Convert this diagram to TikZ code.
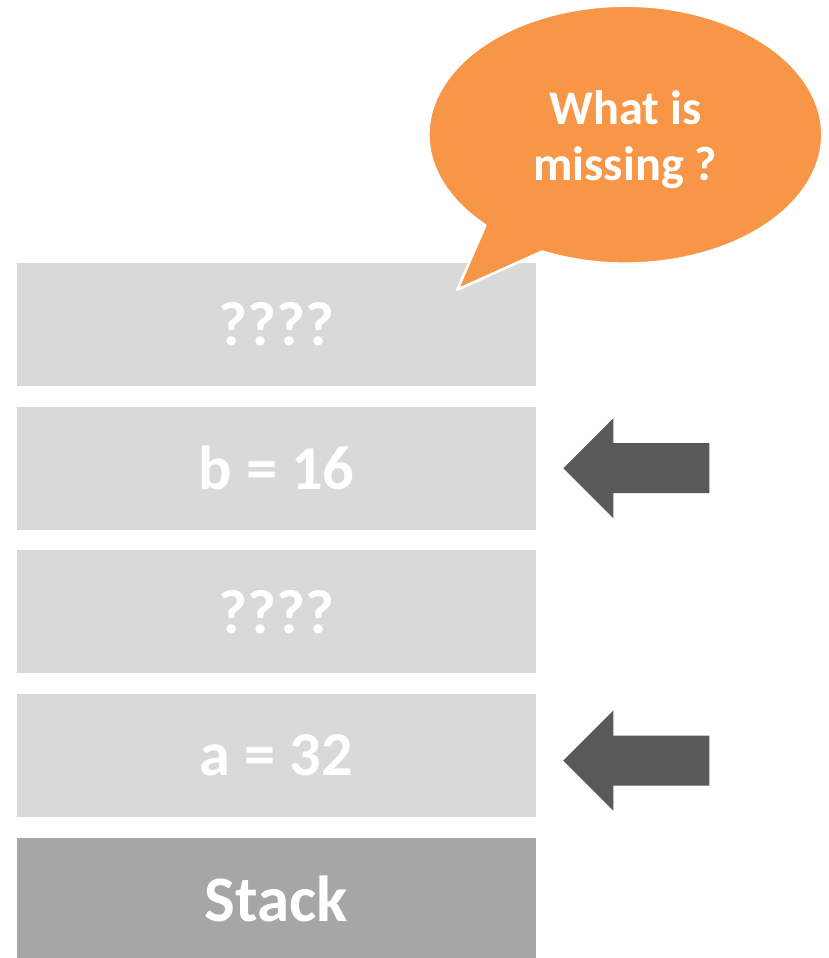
\documentclass[tikz,border=0pt]{standalone}
\usepackage{fontspec}
\setmainfont{Carlito}
\usetikzlibrary{positioning,calc}
\definecolor{cellgray}{HTML}{D9D9D9}
\definecolor{basegray}{HTML}{A6A6A6}
\definecolor{ptrgray}{HTML}{595959}
\definecolor{bubbleorange}{HTML}{F79646}
\tikzset{
  cellbox/.style={
    fill=cellgray,
    minimum width=10.38cm,
    minimum height=2.46cm,
    inner sep=0pt,
    text=white,
    font=\fontsize{35.5}{42}\selectfont\bfseries
  },
  basebox/.style={cellbox,fill=basegray,font=\fontsize{37}{44}\selectfont\bfseries},
  ptrarrow/.style={fill=ptrgray},
  bubble/.style={
    fill=bubbleorange,
    draw=white,
    line width=1.5pt,
    line join=round
  },
  bubbletext/.style={
    align=center,
    text=white,
    font=\fontsize{27.5}{32}\selectfont\bfseries
  }
}

\begin{document}
\begin{tikzpicture}[node distance=4mm]
      \useasboundingbox (0,0) rectangle (16.58,-19.16);
      \node[cellbox] (top) at (5.53,-6.49) {????};
      \node[cellbox,below=of top] (b) {b = 16};
      \node[cellbox,below=of b] (mid) {????};
      \node[cellbox,below=of mid] (a) {a = 32};
      \node[basebox,below=of a] (stack) {Stack};
      % pointers to the two known slots
      \coordinate[right=5.4mm of b.east] (bptr);
      \coordinate[right=5.4mm of a.east,yshift=-1mm] (aptr);
      \foreach \p in {bptr,aptr}
        \fill[ptrarrow] (\p) -- ++(1,1) -- ++(0,-0.5) -- ++(1.92,0)
          -- ++(0,-1) -- ++(-1.92,0) -- ++(0,-0.5) -- cycle;
      % speech bubble over the top slot
      \coordinate (askc) at ($(top.north east)+(1.78,2.56)$);
      \coordinate (asktip) at ($(top.north east)+(-1.58,-0.54)$);
      \draw[bubble] ($(askc)+(245:3.94 and 2.58)$)
        arc[start angle=245,end angle=584.7,x radius=3.94,y radius=2.58]
        -- (asktip) -- cycle;
      \node[bubbletext] (ask) at ($(askc)+(0,-0.1)$) {What is\\missing ?};
    \end{tikzpicture}
\end{document}
